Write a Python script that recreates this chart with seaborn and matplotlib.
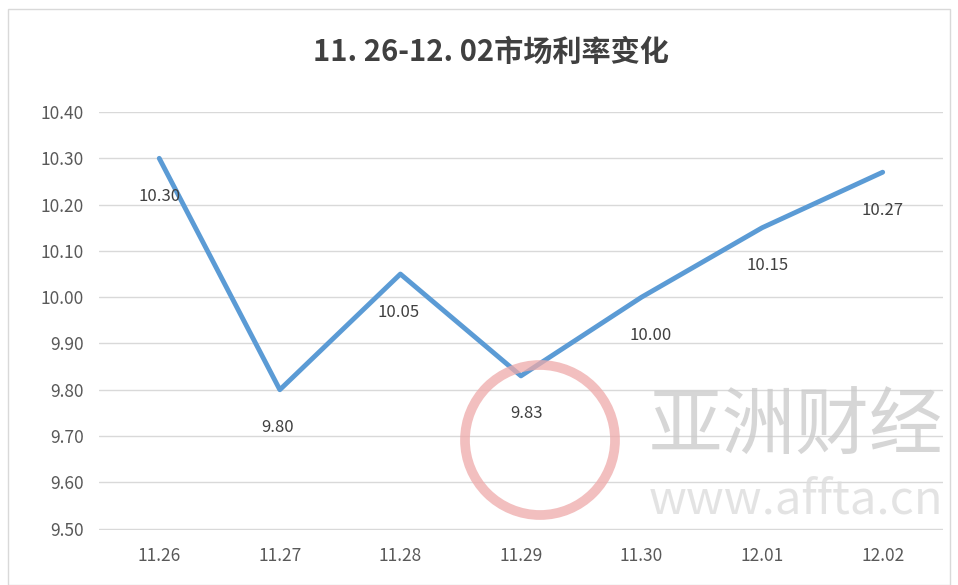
import pandas as pd
import seaborn as sns
import matplotlib.pyplot as plt
from matplotlib.patches import Ellipse, Rectangle

# data
dates = ["11.26", "11.27", "11.28", "11.29", "11.30", "12.01", "12.02"]
rates = [10.30, 9.80, 10.05, 9.83, 10.00, 10.15, 10.27]
label_dx = [0, -2, -2, 6, 9, 5, 0]   # px offsets of the value labels
yticks = [9.50, 9.60, 9.70, 9.80, 9.90, 10.00, 10.10, 10.20, 10.30, 10.40]

dat = pd.DataFrame({"date": dates, "rate": rates})

sns.set_style("white")
plt.rcParams["font.family"] = ["Noto Sans CJK SC", "DejaVu Sans"]

fig = plt.figure(figsize=(9.58, 5.85), dpi=100)
ax = fig.add_axes([0.1033, 0.094, 0.8810, 0.7145])

sns.lineplot(data=dat, x="date", y="rate", sort=False, color="#5b9bd5",
             linewidth=3.5, ax=ax)

# value labels under each point
for i, (d, r) in enumerate(zip(dates, rates)):
    ax.annotate(f"{r:.2f}", (i, r), xytext=(label_dx[i] * 0.72, -38 * 0.72),
                textcoords="offset points", ha="center", va="center",
                fontsize=12, color="#404040")

ax.set_xlim(-0.5, len(dates) - 0.5)
ax.set_ylim(9.497, 10.40)
ax.set_yticks(yticks)
ax.set_yticklabels([f"{t:.2f}" for t in yticks])
ax.yaxis.grid(True, color="#d9d9d9", linewidth=1)
ax.set_axisbelow(True)
for s in ax.spines.values():
    s.set_visible(False)
ax.tick_params(axis="both", length=0, labelsize=12.5, labelcolor="#595959")
ax.tick_params(axis="x", pad=12)
ax.tick_params(axis="y", pad=11)
ax.set_xlabel("")
ax.set_ylabel("")

fig.text(0.512, 0.912, "11. 26-12. 02市场利率变化", ha="center", va="center",
         fontsize=21, fontweight="bold", color="#404040")

# watermark
fig.patches.append(Ellipse((540 / 958, 1 - 440 / 585), 150 / 958, 150 / 585,
                           transform=fig.transFigure, fill=False,
                           edgecolor="#eeaaaa", linewidth=7, alpha=0.75))
fig.text(0.831, 1 - 428 / 585, "亚洲财经", ha="center", va="center", fontsize=53,
         color="#cccccc", alpha=0.8)
fig.text(0.831, 1 - 500 / 585, "www.affta.cn", ha="center", va="center", fontsize=34,
         color="#dddddd", alpha=0.8)

# outer frame
fig.patches.append(Rectangle((8 / 958, 0), 942 / 958, 0.985, transform=fig.transFigure,
                             fill=False, edgecolor="#d9d9d9", linewidth=1))

fig.savefig("out.png", dpi=100)
